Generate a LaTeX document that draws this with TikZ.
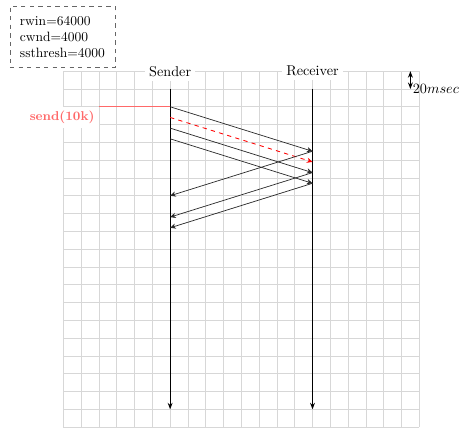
\documentclass[tikz,border=0pt]{standalone}
\usetikzlibrary{arrows.meta,positioning}
\definecolor{gridgray}{RGB}{215,215,215}
\definecolor{sendred}{RGB}{255,105,105}
\definecolor{linegray}{RGB}{40,40,40}

\begin{document}
\begin{tikzpicture}[x=0.44cm, y=0.44cm,
    lbl/.style={fill=white, inner sep=3pt},
    life/.style={line width=0.7pt, -{Stealth[length=1.6mm]}},
    msg/.style={linegray, line width=0.5pt, -{Stealth[length=1.4mm, width=1.3mm]}},
    lost/.style={red, dashed, semithick, -{Stealth[length=1.4mm, width=1.3mm]}}
]
\useasboundingbox (-3.56,0) rectangle (22.4,24);
\draw[gridgray, step=0.44cm] (0,0) grid (20,20);

\node[draw=black!60, dashed, align=left, font=\fontsize{9.5pt}{11.3pt}\selectfont, inner xsep=7pt, inner ysep=7pt] (params) at (-0.05,21.93) {rwin=64000\\cwnd=4000\\ssthresh=4000};

\node[lbl] (snd) at (6,20) {Sender};
\node[lbl] (rcv) at (14,20) {Receiver};
\coordinate (sndtop) at (6,19);
\coordinate (sndend) at (6,1);
\coordinate (rcvtop) at (14,19);
\coordinate (rcvend) at (14,1);
\draw[life] (sndtop) -- (sndend);
\draw[life] (rcvtop) -- (rcvend);

\coordinate (app) at (2,18);
\coordinate (d1) at (6,18);
\draw[sendred] (app) -- (d1);
\node[lbl, below left, text=sendred, font=\small\bfseries] (sendlbl) at (app) {send(10k)};

\foreach \i/\t in {1/18,3/16.8,4/16.2}{
  \coordinate (s\i) at (6,\t);
  \coordinate (r\i) at (14,\t-2.5);
  \draw[msg] (s\i) -- (r\i);
}
\coordinate (s2) at (6,17.4);
\coordinate (r2) at (14,14.9);
\draw[lost] (s2) -- (r2);

\coordinate (a1) at (6,13);
\coordinate (a3) at (6,11.8);
\coordinate (a4) at (6,11.2);
\draw[msg] (r1) -- (a1);
\draw[msg] (r3) -- (a3);
\draw[msg] (r4) -- (a4);

\coordinate (ttop) at (19.5,20);
\coordinate (tbot) at (19.5,19);
\draw[thick, {Stealth[length=1.6mm]}-{Stealth[length=1.6mm]}] (ttop) -- (tbot);
\node[right, inner sep=1.5pt] (tlbl) at (tbot) {$20msec$};
\end{tikzpicture}
\end{document}
